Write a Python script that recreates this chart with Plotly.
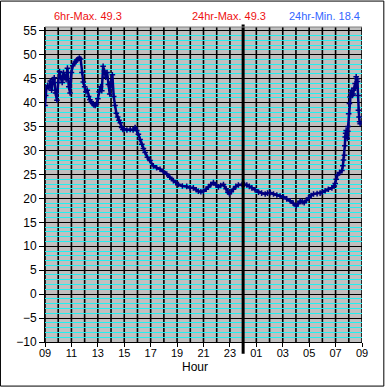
import plotly.graph_objects as go

# Hours elapsed since 09:00 (0 = 09:00, 15 = midnight, 24 = 09:00 next day)
hours = [
    0.00, 0.05, 0.10, 0.20, 0.30, 0.40, 0.50, 0.60, 0.70, 0.80, 0.90,
    1.00, 1.10, 1.20, 1.30, 1.40, 1.50, 1.60, 1.70, 1.80, 1.90,
    2.00, 2.10, 2.20, 2.30, 2.40, 2.50, 2.60, 2.70, 2.80, 2.90,
    3.00, 3.10, 3.20, 3.30, 3.40, 3.50, 3.60, 3.70, 3.80, 3.90,
    4.00, 4.10, 4.20, 4.30, 4.40, 4.50, 4.60, 4.70, 4.80, 4.90,
    5.00, 5.10, 5.20, 5.30, 5.40, 5.50, 5.60, 5.70, 5.80, 5.90,
    6.00, 6.20, 6.45, 6.67, 6.82, 6.95, 7.07, 7.20, 7.33, 7.45,
    7.58, 7.75, 7.95, 8.20, 8.45, 8.71, 8.95, 9.22, 9.45, 9.72,
    9.90, 10.10, 10.40, 10.73, 10.98, 11.23, 11.45, 11.61, 11.80, 11.99,
    12.20, 12.37, 12.55, 12.75, 12.95, 13.13, 13.30, 13.51, 13.71, 13.85,
    13.96, 14.10, 14.26, 14.45, 14.64, 14.92, 15.10, 15.28, 15.47, 15.66,
    15.90, 16.16, 16.40, 16.67, 16.85, 17.05, 17.30, 17.55, 17.80, 18.05,
    18.30, 18.56, 18.79, 19.02, 19.15, 19.32, 19.47, 19.62, 19.80, 19.95,
    20.15, 20.33, 20.60, 20.83, 21.00, 21.21, 21.45, 21.72, 21.90, 21.97,
    22.05, 22.14, 22.30, 22.48, 22.55, 22.60, 22.67, 22.70, 22.73, 22.76,
    22.80, 22.84, 22.88, 22.92, 22.95, 22.99, 23.05, 23.10, 23.15, 23.23,
    23.28, 23.33, 23.41, 23.48, 23.52, 23.56, 23.62, 23.66, 23.70, 23.73,
    23.78, 23.82, 23.86,
]
temps = [
    39.4, 41.5, 42.9, 43.6, 43.1, 44.5, 42.6, 44.8, 45.2, 42.0, 40.5,
    44.2, 46.5, 45.2, 44.2, 46.3, 45.4, 44.8, 47.2, 43.3, 42.0,
    46.3, 47.7, 48.2, 48.5, 48.9, 49.1, 49.3, 49.1, 46.3, 44.3,
    43.3, 42.3, 42.6, 41.3, 40.6, 40.2, 39.8, 39.5, 39.4, 39.7,
    40.8, 42.3, 43.3, 42.5, 47.6, 46.6, 45.3, 46.3, 43.8, 41.8,
    44.3, 45.8, 41.3, 39.4, 37.8, 37.0, 36.3, 35.8, 34.8, 34.4,
    34.5, 34.3, 34.4, 34.3, 34.8, 34.2, 33.4, 32.3, 31.3, 30.4,
    29.6, 28.6, 27.9, 26.8, 26.4, 26.1, 25.6, 25.1, 24.4, 23.7,
    23.3, 22.9, 22.6, 22.5, 22.2, 22.2, 21.8, 21.5, 21.4, 21.5,
    21.9, 22.4, 22.9, 23.3, 22.8, 22.4, 22.7, 22.9, 22.0, 21.3,
    21.0, 21.4, 21.9, 22.5, 22.8, 22.9, 22.9, 22.8, 22.5, 22.2,
    21.8, 21.3, 21.1, 20.9, 21.1, 21.2, 20.9, 20.7, 20.5, 20.3,
    19.9, 19.5, 19.0, 18.4, 18.9, 19.4, 19.3, 19.1, 19.6, 20.1,
    20.6, 20.9, 21.0, 21.1, 21.3, 21.6, 21.9, 22.2, 22.6, 23.1,
    24.0, 24.9, 25.4, 25.8, 26.8, 28.0, 29.0, 31.0, 32.8, 33.6,
    34.2, 33.0, 32.5, 34.0, 35.0, 37.7, 39.8, 41.2, 42.0, 42.6,
    41.5, 41.8, 43.0, 44.0, 43.0, 45.4, 45.0, 44.4, 41.5, 38.4,
    37.0, 36.0, 35.6,
]

tick_hours = [0, 2, 4, 6, 8, 10, 12, 14, 16, 18, 20, 22, 24]
tick_labels = ["09", "11", "13", "15", "17", "19", "21", "23", "01", "03", "05", "07", "09"]
grid_hours = list(range(0, 25))
y_ticks = [-10, -5, 0, 5, 10, 15, 20, 25, 30, 35, 40, 45, 50, 55]
midnight = 15
header_texts = ["6hr-Max. 49.3", "24hr-Max. 49.3", "24hr-Min. 18.4"]
header_colors = ["#EE1111", "#EE1111", "#3366FF"]

FONT = "Liberation Sans, Arial, sans-serif"
NAVY = "#000080"

fig = go.Figure()
fig.add_trace(go.Scatter(
    x=hours, y=temps, mode="lines+markers",
    line=dict(color=NAVY, width=2.5),
    marker=dict(symbol="cross-thin", size=4, color=NAVY,
                line=dict(color=NAVY, width=1.5)),
    hoverinfo="skip", showlegend=False,
))

# plot area in pixels: x 45..361.7, y 26.5..342.3
L, R, T, B = 45, 361.7, 26.5, 342.3
W, H = R - L, B - T

def px_to_paper_x(px):
    return (px - L) / W

def px_to_paper_y(py):
    return (B - py) / H

# hourly vertical grid lines, drawn above the cyan/black horizontal grid
shapes = [
    dict(type="line", xref="x", yref="paper", x0=h, x1=h, y0=0, y1=1,
         line=dict(color="black", width=1.6), layer="between")
    for h in grid_hours
]
shapes += [
    # midnight divider
    dict(type="line", xref="x", yref="paper", x0=midnight, x1=midnight,
         y0=px_to_paper_y(354), y1=px_to_paper_y(24),
         line=dict(color="black", width=3), layer="above"),
    # top border of plot
    dict(type="line", xref="paper", yref="paper", x0=0, x1=1, y0=1, y1=1,
         line=dict(color="#808080", width=1)),
    # outer frame
    dict(type="rect", xref="paper", yref="paper",
         x0=px_to_paper_x(0.5), x1=px_to_paper_x(383.5),
         y0=px_to_paper_y(386.5), y1=px_to_paper_y(0.5),
         line=dict(color="black", width=1)),
]

header_x = [87.5, 228.5, 324]
annotations = [
    dict(text=t, x=px_to_paper_x(xc), y=px_to_paper_y(15), xref="paper", yref="paper",
         showarrow=False, xanchor="center", yanchor="middle",
         font=dict(family=FONT, size=11, color=c))
    for t, c, xc in zip(header_texts, header_colors, header_x)
]
annotations.append(dict(text="Hour", x=px_to_paper_x(194.5), y=px_to_paper_y(367),
                        xref="paper", yref="paper", showarrow=False,
                        xanchor="center", yanchor="middle",
                        font=dict(family=FONT, size=12, color="black")))

fig.update_layout(
    width=385, height=388,
    margin=dict(l=L, r=385 - R, t=T, b=388 - B, pad=0),
    paper_bgcolor="white", plot_bgcolor="#C0C0C0",
    font=dict(family=FONT, size=11, color="black"),
    shapes=shapes, annotations=annotations,
    xaxis=dict(
        range=[0, 24], tickmode="array", tickvals=tick_hours, ticktext=tick_labels,
        ticks="outside", ticklen=4, tickcolor="black", tickwidth=1,
        ticklabelstandoff=-3,
        showgrid=False,
        zeroline=False, showline=True, linecolor="black", linewidth=1,
        tickfont=dict(family=FONT, size=11, color="black"),
        fixedrange=True, automargin=False,
    ),
    yaxis=dict(
        range=[-10, 55.8], tickmode="array", tickvals=y_ticks,
        ticks="outside", ticklen=5, tickcolor="black", tickwidth=1,
        showgrid=True, gridcolor="black", gridwidth=1,
        minor=dict(tickmode="linear", tick0=0, dtick=1, showgrid=True,
                   gridcolor="#20F0F0", gridwidth=1, ticks=""),
        zeroline=False, showline=True, linecolor="black", linewidth=1,
        tickfont=dict(family=FONT, size=12, color="black"),
        fixedrange=True, automargin=False,
    ),
)

fig.write_html("out.html", config={"displayModeBar": False},
               post_script="document.body.style.margin='0';document.body.style.padding='0';")
